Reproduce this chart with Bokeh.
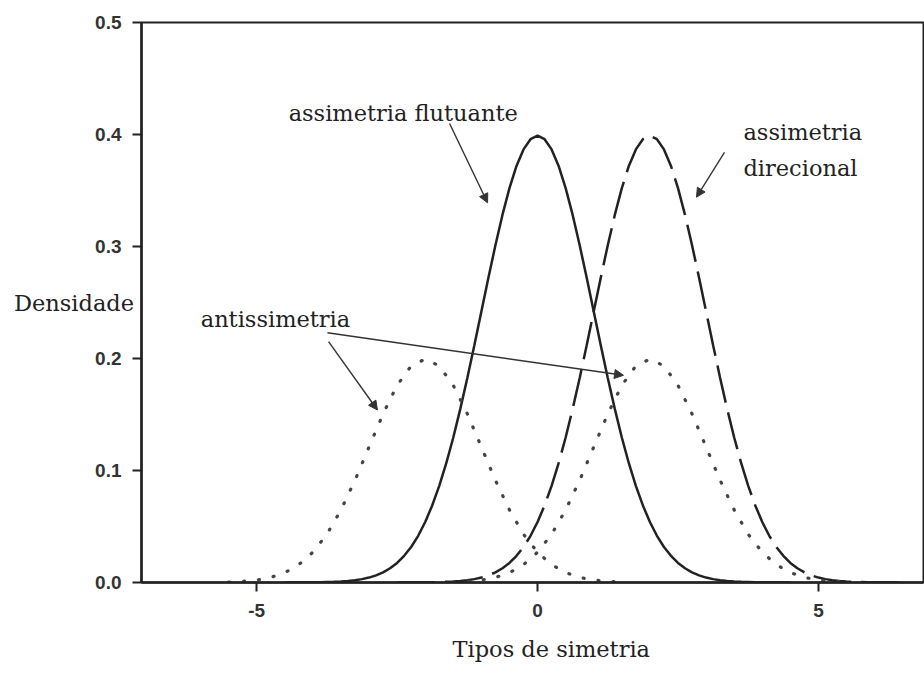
from bokeh.plotting import figure
from bokeh.models import Label, Arrow, NormalHead, FixedTicker, Range1d, Title
from bokeh.embed import file_html
from bokeh.resources import INLINE

# ---- data ----
solid_x = [-4.5, -4.375, -4.25, -4.125, -4.0, -3.875, -3.75, -3.625, -3.5, -3.375, -3.25, -3.125,
           -3.0, -2.875, -2.75, -2.625, -2.5, -2.375, -2.25, -2.125, -2.0, -1.875, -1.75, -1.625,
           -1.5, -1.375, -1.25, -1.125, -1.0, -0.875, -0.75, -0.625, -0.5, -0.375, -0.25, -0.125,
           0.0, 0.125, 0.25, 0.375, 0.5, 0.625, 0.75, 0.875, 1.0, 1.125, 1.25, 1.375,
           1.5, 1.625, 1.75, 1.875, 2.0, 2.125, 2.25, 2.375, 2.5, 2.625, 2.75, 2.875,
           3.0, 3.125, 3.25, 3.375, 3.5, 3.625, 3.75, 3.875, 4.0, 4.125, 4.25, 4.375, 4.5]
solid_y = [0.0000, 0.0000, 0.0000, 0.0001, 0.0001, 0.0002, 0.0004, 0.0006, 0.0009, 0.0013, 0.0020, 0.0030,
           0.0044, 0.0064, 0.0091, 0.0127, 0.0175, 0.0238, 0.0317, 0.0417, 0.0540, 0.0688, 0.0863, 0.1065,
           0.1295, 0.1550, 0.1826, 0.2119, 0.2420, 0.2720, 0.3011, 0.3282, 0.3521, 0.3719, 0.3867, 0.3958,
           0.3989, 0.3958, 0.3867, 0.3719, 0.3521, 0.3282, 0.3011, 0.2720, 0.2420, 0.2119, 0.1826, 0.1550,
           0.1295, 0.1065, 0.0863, 0.0688, 0.0540, 0.0417, 0.0317, 0.0238, 0.0175, 0.0127, 0.0091, 0.0064,
           0.0044, 0.0030, 0.0020, 0.0013, 0.0009, 0.0006, 0.0004, 0.0002, 0.0001, 0.0001, 0.0000, 0.0000, 0.0000]

dashed_x = [-2.5, -2.375, -2.25, -2.125, -2.0, -1.875, -1.75, -1.625, -1.5, -1.375, -1.25, -1.125,
            -1.0, -0.875, -0.75, -0.625, -0.5, -0.375, -0.25, -0.125, 0.0, 0.125, 0.25, 0.375,
            0.5, 0.625, 0.75, 0.875, 1.0, 1.125, 1.25, 1.375, 1.5, 1.625, 1.75, 1.875,
            2.0, 2.125, 2.25, 2.375, 2.5, 2.625, 2.75, 2.875, 3.0, 3.125, 3.25, 3.375,
            3.5, 3.625, 3.75, 3.875, 4.0, 4.125, 4.25, 4.375, 4.5, 4.625, 4.75, 4.875,
            5.0, 5.125, 5.25, 5.375, 5.5, 5.625, 5.75, 5.875, 6.0, 6.125, 6.25, 6.375, 6.5]
dashed_y = [0.0000, 0.0000, 0.0000, 0.0001, 0.0001, 0.0002, 0.0004, 0.0006, 0.0009, 0.0013, 0.0020, 0.0030,
            0.0044, 0.0064, 0.0091, 0.0127, 0.0175, 0.0238, 0.0317, 0.0417, 0.0540, 0.0688, 0.0863, 0.1065,
            0.1295, 0.1550, 0.1826, 0.2119, 0.2420, 0.2720, 0.3011, 0.3282, 0.3521, 0.3719, 0.3867, 0.3958,
            0.3989, 0.3958, 0.3867, 0.3719, 0.3521, 0.3282, 0.3011, 0.2720, 0.2420, 0.2119, 0.1826, 0.1550,
            0.1295, 0.1065, 0.0863, 0.0688, 0.0540, 0.0417, 0.0317, 0.0238, 0.0175, 0.0127, 0.0091, 0.0064,
            0.0044, 0.0030, 0.0020, 0.0013, 0.0009, 0.0006, 0.0004, 0.0002, 0.0001, 0.0001, 0.0000, 0.0000, 0.0000]

anti_left_x = [-5.5, -5.25, -5.0, -4.75, -4.5, -4.25, -4.0, -3.75, -3.5, -3.25, -3.0, -2.75,
               -2.5, -2.25, -2.0, -1.75, -1.5, -1.25, -1.0, -0.75, -0.5, -0.25, 0.0, 0.25,
               0.5, 0.75, 1.0, 1.25, 1.5]
anti_left_y = [0.0004, 0.0010, 0.0022, 0.0045, 0.0088, 0.0159, 0.0270, 0.0431, 0.0648, 0.0913,
               0.1210, 0.1506, 0.1760, 0.1934, 0.1995, 0.1934, 0.1760, 0.1506, 0.1210, 0.0913,
               0.0648, 0.0431, 0.0270, 0.0159, 0.0088, 0.0045, 0.0022, 0.0010, 0.0004]

anti_right_x = [-1.5, -1.25, -1.0, -0.75, -0.5, -0.25, 0.0, 0.25, 0.5, 0.75, 1.0, 1.25,
                1.5, 1.75, 2.0, 2.25, 2.5, 2.75, 3.0, 3.25, 3.5, 3.75, 4.0, 4.25,
                4.5, 4.75, 5.0, 5.25, 5.5]
anti_right_y = [0.0004, 0.0010, 0.0022, 0.0045, 0.0088, 0.0159, 0.0270, 0.0431, 0.0648, 0.0913,
                0.1210, 0.1506, 0.1760, 0.1934, 0.1995, 0.1934, 0.1760, 0.1506, 0.1210, 0.0913,
                0.0648, 0.0431, 0.0270, 0.0159, 0.0088, 0.0045, 0.0022, 0.0010, 0.0004]

x_ticks = [-5, 0, 5]
x_tick_labels = ["-5", "0", "5"]
y_ticks = [0.0, 0.1, 0.2, 0.3, 0.4, 0.5]
y_tick_labels = ["0.0", "0.1", "0.2", "0.3", "0.4", "0.5"]

x_title = "Tipos de simetria"
y_title = "Densidade"

# ---- figure ----
INK = "#222222"
SERIF = "DejaVu Serif"
p = figure(width=924, height=675, x_range=Range1d(-7.05, 6.87), y_range=Range1d(0, 0.5),
           output_backend="svg", toolbar_location=None,
           min_border_left=141, min_border_right=1, min_border_top=22, min_border_bottom=93)
p.background_fill_color = "white"
p.border_fill_color = "white"
p.grid.visible = False
p.outline_line_color = INK
p.outline_line_width = 2

for ax in (p.xaxis[0], p.yaxis[0]):
    ax.axis_line_width = 2.5
    ax.axis_line_color = INK
    ax.major_tick_line_color = INK
    ax.major_tick_line_width = 2
    ax.major_tick_in = 0
    ax.major_tick_out = 9
    ax.minor_tick_line_color = None
    ax.major_label_text_font = "Liberation Sans"
    ax.major_label_text_font_style = "bold"
    ax.major_label_text_font_size = "19px"
    ax.major_label_text_color = "#333333"

p.xaxis.ticker = FixedTicker(ticks=x_ticks)
p.xaxis.major_label_overrides = {t: l for t, l in zip(x_ticks, x_tick_labels)}
p.xaxis.major_label_standoff = 12
p.yaxis.ticker = FixedTicker(ticks=y_ticks)
p.yaxis.major_label_overrides = {t: l for t, l in zip(y_ticks, y_tick_labels)}
p.yaxis.major_label_standoff = 11

# y axis title, written horizontally
p.yaxis.axis_label = y_title
p.yaxis.axis_label_orientation = "horizontal"
p.yaxis.axis_label_text_font = SERIF
p.yaxis.axis_label_text_font_size = "22.5px"
p.yaxis.axis_label_text_font_style = "normal"
p.yaxis.axis_label_text_color = INK
p.yaxis.axis_label_standoff = -42

# x axis title as a Title below
p.add_layout(Title(text=x_title, align="left", offset=311, standoff=28,
                   text_font=SERIF, text_font_size="22.5px", text_font_style="normal",
                   text_color=INK), "below")

# curves
p.line(solid_x, solid_y, line_color=INK, line_width=2.5)
p.line(dashed_x, dashed_y, line_color=INK, line_width=2.5, line_dash="38 10")
p.line(anti_left_x, anti_left_y, line_color="#444444", line_width=3.2,
       line_dash="1 14", line_cap="round")
p.line(anti_right_x, anti_right_y, line_color="#444444", line_width=3.2,
       line_dash="1 14", line_cap="round")

# text annotations
def lab(x, y, text, align="left"):
    p.add_layout(Label(x=x, y=y, text=text, text_font=SERIF, text_font_size="22.5px",
                       text_color=INK, text_align=align, text_baseline="alphabetic"))

lab(-4.431, 0.4196, "assimetria flutuante")
lab(3.665, 0.4018, "assimetria")
lab(3.665, 0.3705, "direcional")
lab(-5.996, 0.2357, "antissimetria")

# arrows
def arr(x0, y0, x1, y1):
    p.add_layout(Arrow(end=NormalHead(size=9, fill_color="#333333", line_color="#333333",
                                      line_width=1),
                       x_start=x0, y_start=y0, x_end=x1, y_end=y1,
                       line_color="#333333", line_width=1.4))

arr(-1.566, 0.4098, -0.89, 0.339)
arr(3.327, 0.384, 2.829, 0.344)
arr(-3.72, 0.215, -2.85, 0.154)
arr(-3.74, 0.223, 1.53, 0.185)

open("out.html", "w").write(file_html(p, INLINE))
